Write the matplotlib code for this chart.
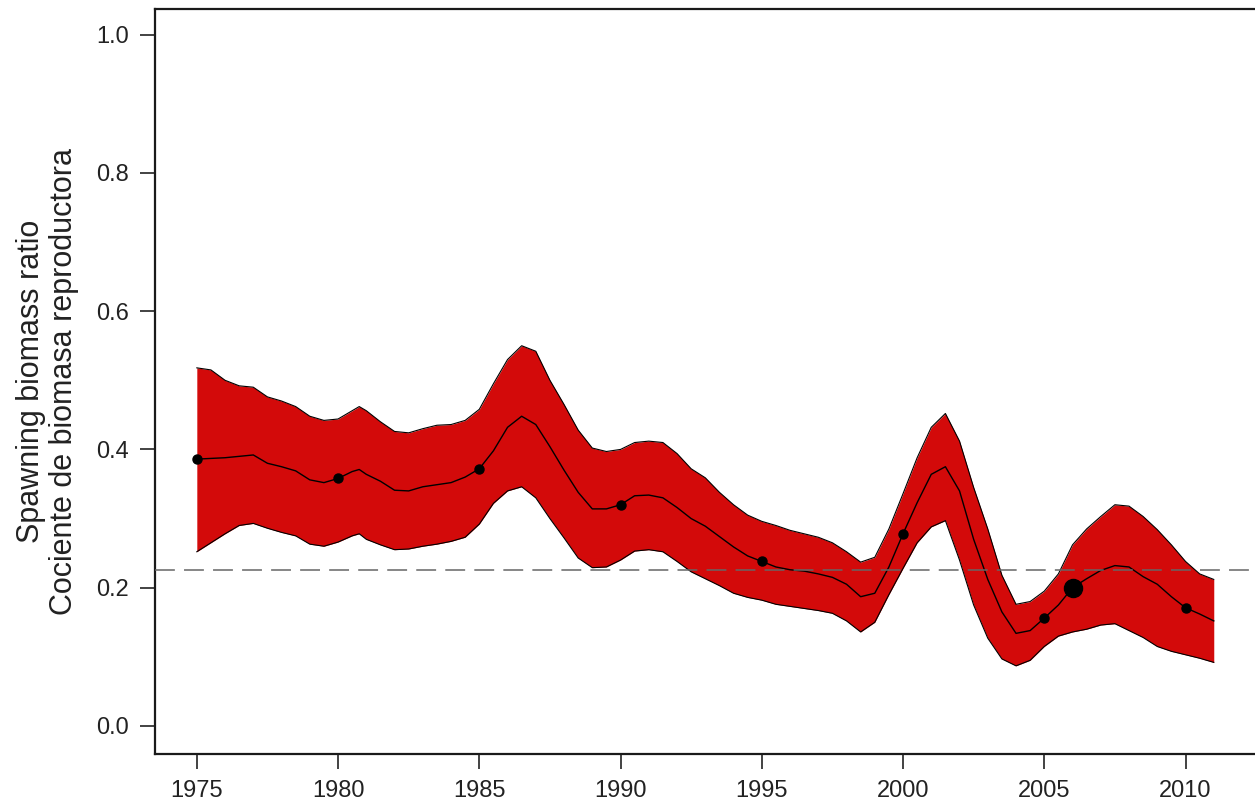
import matplotlib
matplotlib.use("Agg")
import matplotlib.pyplot as plt

plt.rcParams['font.family'] = ['Liberation Sans', 'DejaVu Sans']

# quarterly-ish readings of the spawning biomass ratio and its confidence band
years = [1975.0, 1975.5, 1976.0, 1976.5, 1977.0, 1977.5, 1978.0, 1978.5, 1979.0, 1979.5,
         1980.0, 1980.5, 1980.75, 1981.0, 1981.5, 1982.0, 1982.5, 1983.0, 1983.5, 1984.0,
         1984.5, 1985.0, 1985.5, 1986.0, 1986.5, 1987.0, 1987.5, 1988.0, 1988.5, 1989.0,
         1989.5, 1990.0, 1990.5, 1991.0, 1991.5, 1992.0, 1992.5, 1993.0, 1993.5, 1994.0,
         1994.5, 1995.0, 1995.5, 1996.0, 1996.5, 1997.0, 1997.5, 1998.0, 1998.5, 1999.0,
         1999.5, 2000.0, 2000.5, 2001.0, 2001.5, 2002.0, 2002.5, 2003.0, 2003.5, 2004.0,
         2004.5, 2005.0, 2005.5, 2006.0, 2006.5, 2007.0, 2007.5, 2008.0, 2008.5, 2009.0,
         2009.5, 2010.0, 2010.5, 2011.0]

upper = [0.518, 0.515, 0.500, 0.492, 0.490, 0.476, 0.470, 0.462, 0.448, 0.442,
         0.444, 0.456, 0.462, 0.456, 0.440, 0.426, 0.424, 0.430, 0.435, 0.436,
         0.442, 0.458, 0.495, 0.530, 0.550, 0.542, 0.500, 0.465, 0.428, 0.402,
         0.397, 0.400, 0.410, 0.412, 0.410, 0.394, 0.372, 0.359, 0.338, 0.320,
         0.305, 0.296, 0.290, 0.283, 0.278, 0.273, 0.265, 0.252, 0.237, 0.244,
         0.285, 0.336, 0.388, 0.432, 0.452, 0.412, 0.345, 0.285, 0.218, 0.176,
         0.180, 0.195, 0.220, 0.262, 0.285, 0.303, 0.320, 0.318, 0.303, 0.284,
         0.262, 0.238, 0.220, 0.212]

median = [0.386, 0.387, 0.388, 0.390, 0.392, 0.380, 0.375, 0.369, 0.356, 0.352,
          0.358, 0.368, 0.371, 0.364, 0.354, 0.341, 0.340, 0.346, 0.349, 0.352,
          0.360, 0.372, 0.398, 0.432, 0.448, 0.436, 0.404, 0.370, 0.338, 0.314,
          0.314, 0.320, 0.333, 0.334, 0.330, 0.316, 0.300, 0.289, 0.274, 0.259,
          0.246, 0.238, 0.230, 0.226, 0.224, 0.220, 0.215, 0.205, 0.187, 0.192,
          0.230, 0.278, 0.323, 0.364, 0.375, 0.340, 0.270, 0.212, 0.165, 0.134,
          0.138, 0.156, 0.175, 0.200, 0.213, 0.225, 0.232, 0.230, 0.216, 0.205,
          0.187, 0.171, 0.162, 0.152]

lower = [0.252, 0.265, 0.278, 0.290, 0.293, 0.286, 0.280, 0.275, 0.263, 0.260,
         0.266, 0.275, 0.278, 0.270, 0.262, 0.255, 0.256, 0.260, 0.263, 0.267,
         0.273, 0.292, 0.322, 0.340, 0.346, 0.330, 0.300, 0.272, 0.243, 0.229,
         0.230, 0.240, 0.253, 0.255, 0.252, 0.238, 0.223, 0.213, 0.203, 0.192,
         0.186, 0.182, 0.176, 0.173, 0.170, 0.167, 0.163, 0.152, 0.136, 0.150,
         0.190, 0.228, 0.265, 0.288, 0.297, 0.240, 0.175, 0.127, 0.097, 0.087,
         0.095, 0.115, 0.130, 0.136, 0.140, 0.146, 0.148, 0.138, 0.128, 0.115,
         0.108, 0.103, 0.098, 0.092]

dot_years = [1975, 1980, 1985, 1990, 1995, 2000, 2005, 2010]
big_dot_year = 2006
reference_level = 0.225

fig = plt.figure(figsize=(12.55, 8.05), dpi=100)
ax = fig.add_axes([155 / 1255, 51 / 805, 1100 / 1255, 745 / 805])

ax.fill_between(years, lower, upper, color='#d30a0a', linewidth=0, zorder=1)
ax.plot(years, upper, color='black', lw=0.8, zorder=2)
ax.plot(years, lower, color='black', lw=0.8, zorder=2)
ax.plot(years, median, color='black', lw=1.0, zorder=3)

dot_vals = [median[years.index(float(y))] for y in dot_years]
ax.plot(dot_years, dot_vals, 'o', color='black', ms=6.5, zorder=4)
ax.plot([big_dot_year], [median[years.index(float(big_dot_year))]], 'o',
        color='black', ms=13, zorder=4)

ax.axhline(reference_level, color='#666666', lw=1.1, dashes=(13, 6), zorder=5)

ax.set_xlim(1973.52, 2012.46)
ax.set_ylim(-0.0405, 1.037)
ax.set_xticks(range(1975, 2011, 5))
ax.set_yticks([0.0, 0.2, 0.4, 0.6, 0.8, 1.0])
ax.set_yticklabels(['0.0', '0.2', '0.4', '0.6', '0.8', '1.0'])
ax.tick_params(axis='both', direction='out', length=11, width=1.2,
               labelsize=17, colors='#222222')
ax.tick_params(axis='y', pad=8)
ax.tick_params(axis='x', pad=8)

for side in ['left', 'bottom', 'top']:
    ax.spines[side].set_linewidth(1.6)
    ax.spines[side].set_color('#1a1a1a')
ax.spines['right'].set_visible(False)

ax.set_ylabel('Spawning biomass ratio\nCociente de biomasa reproductora',
              fontsize=22, color='#222222', labelpad=12, linespacing=1.12)

fig.savefig('out.png', dpi=100)
